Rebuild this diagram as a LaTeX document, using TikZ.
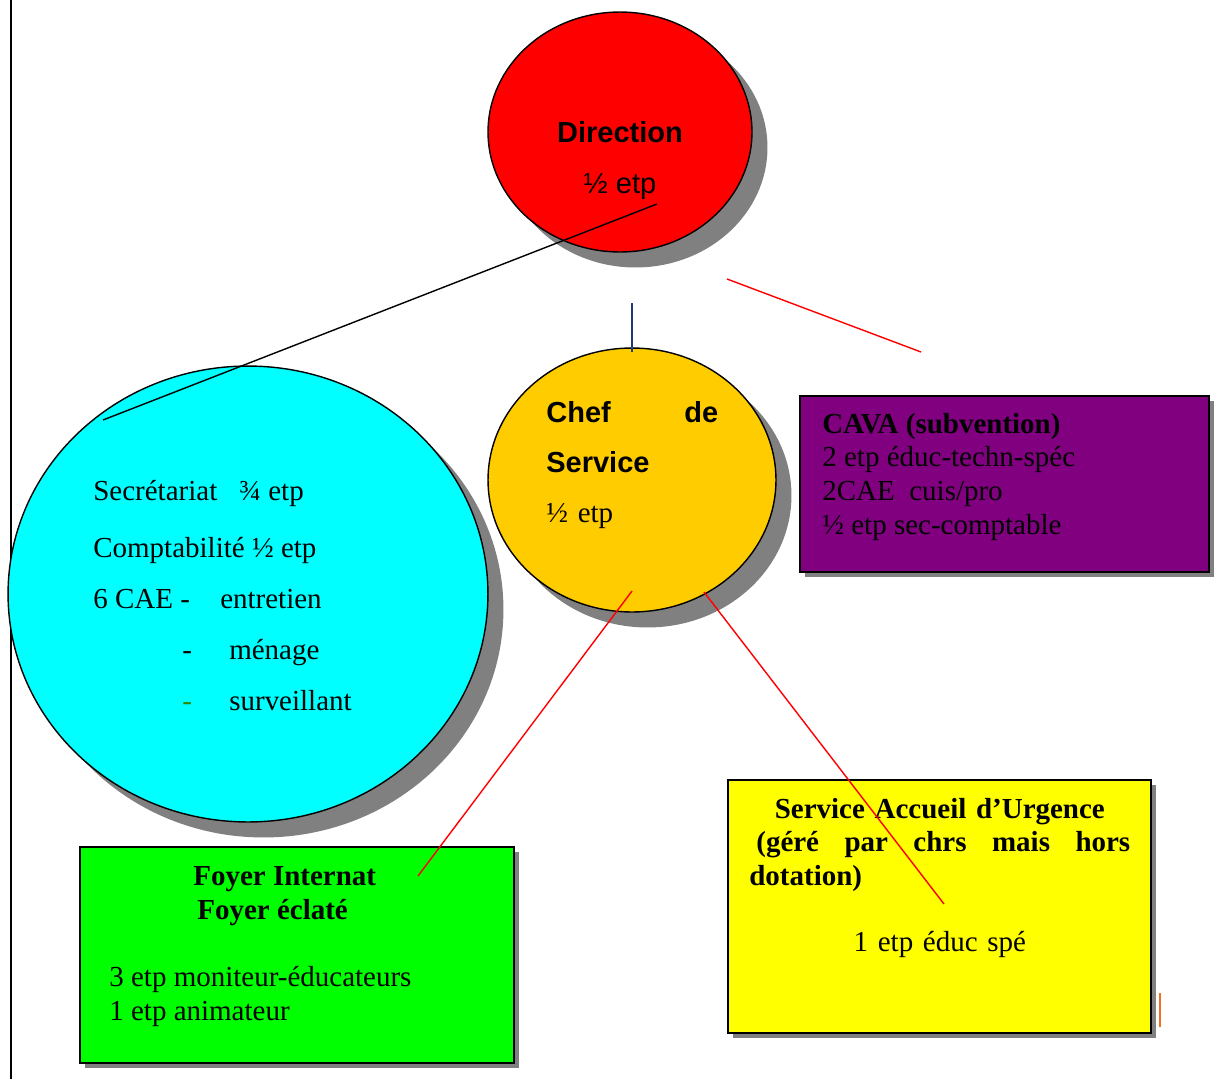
\documentclass[tikz,border=0pt]{standalone}
\usepackage{fontspec}
\setmainfont{Liberation Serif}
\setsansfont{Liberation Sans}
\usepackage{xcolor}
\usepackage{tikz}
\usetikzlibrary{shapes.geometric,shadows}
\definecolor{orgred}{HTML}{FF0000}
\definecolor{orgcyan}{HTML}{00FFFF}
\definecolor{orgamber}{HTML}{FFCC00}
\definecolor{orgpurple}{HTML}{800080}
\definecolor{orgyellow}{HTML}{FFFF00}
\definecolor{orggreen}{HTML}{00FF00}
\definecolor{orgshadow}{HTML}{808080}
\definecolor{orgnavy}{HTML}{1F3D6E}
\definecolor{orgorange}{HTML}{F07020}
\definecolor{orgdash}{HTML}{2E8B00}
\tikzset{
  bubble/.style={ellipse,draw=black,line width=0.8pt,inner sep=0pt,
                 drop shadow={shadow xshift=0.31cm,shadow yshift=-0.31cm,
                              fill=orgshadow,opacity=1}},
  panel/.style={rectangle,draw=black,line width=1.1pt,inner sep=0pt,
                drop shadow={shadow xshift=0.1cm,shadow yshift=-0.1cm,
                             fill=orgshadow,opacity=1}},
  serif/.style={font=\rmfamily\fontsize{16.5}{19.3}\selectfont,text=black,inner sep=0pt},
  sans/.style={font=\sffamily\fontsize{16.5}{28.5}\selectfont,text=black,inner sep=0pt},
  link/.style={line width=0.8pt,draw=orgred},
}

\begin{document}
\begin{tikzpicture}[x={(0.02cm,0)},y={(0,-0.02cm)}]
\useasboundingbox (0,0) rectangle (1217,1079);
\fill[white] (0,0) rectangle (1217,1079);
\draw[line width=1.1pt] (11,0) coordinate (railtop) -- (11,1079) coordinate (railfoot);

\node[bubble,fill=orgcyan,minimum width=9.6cm,minimum height=9.12cm] (admin) at (248,594) {};
\node[bubble,fill=orgred,minimum width=5.28cm,minimum height=4.8cm] (direction) at (620,132) {};
\node[bubble,fill=orgamber,minimum width=5.76cm,minimum height=5.28cm] (chef) at (632,480) {};
\node[panel,fill=orgpurple,minimum width=8.18cm,minimum height=3.52cm] (cava) at (1004.5,484) {};
\node[panel,fill=orgyellow,minimum width=8.46cm,minimum height=5.06cm] (sau) at (939.5,906.5) {};
\node[panel,fill=orggreen,minimum width=8.68cm,minimum height=4.32cm] (foyer) at (297,955) {};

\node[sans,anchor=base,align=center] (directiontext) at (620,193)
  {\textbf{Direction}\\½ etp};
\node[sans,anchor=base west,text width=3.44cm,align=left] (cheftext) at (546,422)
  {\textbf{Chef\hfill de}\\\textbf{Service}\\{\rmfamily ½ etp}};
\node[serif,anchor=base west,align=left,font=\rmfamily\fontsize{16.5}{29}\selectfont] (admintext) at (93,710)
  {\makebox[2.92cm][l]{Secrétariat}¾ etp\\[0.12cm]
   Comptabilité ½ etp\\
   \makebox[2.54cm][l]{6 CAE -}entretien\\
   \makebox[2.72cm][l]{\hspace*{1.78cm}-}ménage\\
   \makebox[2.72cm][l]{\hspace*{1.78cm}\textcolor{orgdash}{-}}surveillant};
\node[serif,anchor=base west,align=left,font=\rmfamily\fontsize{16.5}{19.1}\selectfont] (cavatext) at (822,534)
  {\textbf{CAVA (subvention)}\\2 etp éduc-techn-spéc\\2CAE\ \ cuis/pro\\½ etp sec-comptable};
\node[serif,anchor=base west,text width=7.62cm,align=left] (sautext) at (749,818)
  {\hfill\textbf{Service Accueil d’Urgence}\hfill\null\\
   \hspace*{0.14cm}\textbf{(géré\hfill par\hfill chrs\hfill mais\hfill hors}\\
   \textbf{dotation)}\\[0.64cm]
   \hfill 1 etp éduc spé\hfill\null};
\node[serif,anchor=base west,align=left] (foyertitle) at (193,919)
  {\textbf{Foyer Internat}\\\hspace*{0.08cm}\textbf{Foyer éclaté}};
\node[serif,anchor=base west,align=left] (foyertext) at (109,1020)
  {3 etp moniteur-éducateurs\\1 etp animateur};

\coordinate (dirfoot) at (657,204);
\coordinate (adminhead) at (103,420);
\coordinate (dirstub) at (632,303);
\coordinate (chefhead) at (632,352);
\coordinate (dirright) at (727,279);
\coordinate (cavastub) at (921,352);
\coordinate (cheffootl) at (632,591);
\coordinate (foyerhead) at (418,876);
\coordinate (cheffootr) at (704,592);
\coordinate (sauhead) at (944,904);
\coordinate (orangetop) at (1160,993);
\coordinate (orangefoot) at (1160,1027);

\draw[line width=0.8pt] (dirfoot) -- (adminhead);
\draw[line width=0.8pt,draw=orgnavy] (dirstub) -- (chefhead);
\draw[link] (dirright) -- (cavastub);
\draw[link] (cheffootl) -- (foyerhead);
\draw[link] (cheffootr) -- (sauhead);
\draw[line width=0.8pt,draw=orgorange] (orangetop) -- (orangefoot);
\end{tikzpicture}
\end{document}
